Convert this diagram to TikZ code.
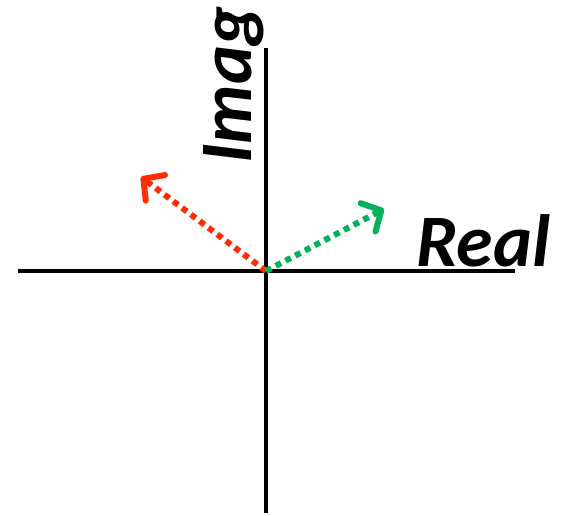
\documentclass[tikz,border=0pt]{standalone}
\usepackage{fontspec}
\setmainfont{Carlito}
\usepackage{tikz}
\usetikzlibrary{
  arrows.meta,
  positioning
}
\definecolor{VecRed}{RGB}{255,45,5}
\definecolor{VecGreen}{RGB}{0,178,90}
\tikzset{
  axisline/.style={line width=4.5pt,draw=black},
  axislabel/.style={font=\fontsize{74}{80}\selectfont\bfseries\itshape,inner sep=0pt},
  phasor/.style={-{Straight Barb[length=15pt,width=32pt,round]},line width=6pt,dash pattern=on 6pt off 5pt}
}

\begin{document}
\begin{tikzpicture}[x=1pt,y=-1pt]
\useasboundingbox (0,0) rectangle (566,516);
\coordinate (O) at (266,271);
\coordinate (xl) at (18,271);
\coordinate (xr) at (515,271);
\coordinate (yt) at (266,48);
\coordinate (yb) at (266,513);
\draw[axisline] (xl) -- (xr);
\draw[axisline] (yt) -- (yb);
\node[axislabel, anchor=base west] (re) at (416,267) {Real};
\node[axislabel, anchor=base west, rotate=90] (im) at (251,164) {Imag};
\coordinate (redtip) at (141,177);
\coordinate (greentip) at (384,209);
\draw[phasor,draw=VecRed] (O) -- (redtip);
\draw[phasor,draw=VecGreen] (O) -- (greentip);
\end{tikzpicture}
\end{document}
